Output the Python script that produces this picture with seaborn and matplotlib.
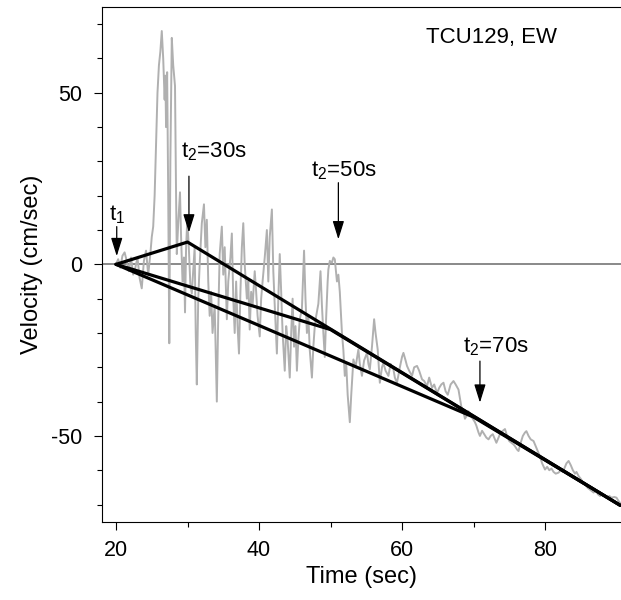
import pandas as pd
import matplotlib
matplotlib.use('Agg')
import matplotlib.pyplot as plt
from matplotlib.ticker import MultipleLocator
import seaborn as sns

sns.set_style('ticks')
plt.rcParams['font.family'] = ['Liberation Sans', 'DejaVu Sans']
plt.rcParams['mathtext.fontset'] = 'custom'
plt.rcParams['mathtext.rm'] = 'Liberation Sans'
plt.rcParams['mathtext.it'] = 'Liberation Sans:italic'
plt.rcParams['axes.unicode_minus'] = False
plt.rcParams['text.color'] = 'black'
plt.rcParams['axes.labelcolor'] = 'black'
plt.rcParams['xtick.color'] = 'black'
plt.rcParams['ytick.color'] = 'black'

#Velocity record TCU129 EW
time_s = [20.0, 20.3, 20.6, 20.9, 21.2, 21.5, 21.8, 22.1, 22.4, 22.7, 23.0, 23.3, 23.6, 23.9,
          24.2, 24.5, 24.8, 25.0, 25.2, 25.4, 25.6, 25.8, 26.0, 26.2, 26.4, 26.6, 26.8, 26.9,
          27.0, 27.15, 27.3, 27.45, 27.6, 27.8, 28.0, 28.25, 28.4, 28.5, 28.7, 28.95, 29.1,
          29.3, 29.5, 29.65, 29.8, 29.97, 30.2, 30.4, 30.6, 30.8, 31.0, 31.15, 31.3, 31.5,
          31.7, 32.0, 32.3, 32.5, 32.7, 32.9, 33.1, 33.3, 33.5, 33.8, 34.1, 34.3, 34.5, 34.8,
          35.0, 35.2, 35.5, 35.7, 36.0, 36.2, 36.4, 36.6, 36.8, 37.0, 37.2, 37.4, 37.6, 37.8,
          38.0, 38.3, 38.5, 38.7, 38.9, 39.1, 39.4, 39.6, 39.8, 40.1, 40.3, 40.5, 40.8, 41.1,
          41.3, 41.5, 41.8, 42.0, 42.2, 42.5, 42.7, 42.9, 43.1, 43.3, 43.6, 43.8, 44.0, 44.3,
          44.5, 44.7, 44.9, 45.1, 45.3, 45.5, 45.7, 46.0, 46.3, 46.5, 46.7, 46.9, 47.1, 47.4,
          47.6, 47.8, 48.0, 48.3, 48.6, 48.8, 49.0, 49.2, 49.4, 49.6, 49.7, 49.9, 50.2, 50.4,
          50.6, 50.9, 51.1, 51.3, 51.6, 51.8, 52.0, 52.2, 52.4, 52.7, 52.9, 53.2, 53.5, 53.9,
          54.1, 54.4, 54.7, 55.1, 55.3, 55.5, 55.8, 56.1, 56.3, 56.6, 56.9, 57.2, 57.4, 57.7,
          58.1, 58.4, 58.8, 59.0, 59.3, 59.7, 60.0, 60.2, 60.5, 60.7, 61.0, 61.4, 61.7, 62.1,
          62.4, 62.8, 63.1, 63.5, 63.8, 64.2, 64.5, 64.9, 65.2, 65.5, 65.8, 66.1, 66.4, 66.8,
          67.2, 67.5, 67.9, 68.1, 68.3, 68.6, 68.8, 69.0, 69.3, 69.6, 69.9, 70.2, 70.4, 70.7,
          70.9, 71.2, 71.5, 71.8, 72.1, 72.4, 72.7, 73.0, 73.2, 73.5, 73.8, 74.1, 74.4, 74.7,
          75.0, 75.3, 75.6, 75.8, 76.1, 76.3, 76.6, 76.9, 77.2, 77.4, 77.7, 78.0, 78.4, 78.7,
          79.0, 79.3, 79.6, 80.0, 80.3, 80.6, 80.9, 81.2, 81.5, 81.9, 82.2, 82.5, 82.8, 83.0,
          83.3, 83.6, 83.9, 84.2, 84.4, 84.7, 85.0, 85.3, 85.6, 85.9, 86.2, 86.5, 86.8, 87.1,
          87.4, 87.7, 88.1, 88.4, 88.7, 89.0, 89.3, 89.7, 90.0, 90.3, 90.5]
velocity = [0, 1.5, -1, 2.5, 3.5, 1, -2, 2, -3, -1, 2, -4, -7, 1,
            4, -3, 3, 8, 11, 20, 35, 50, 58, 62, 68, 60, 48, 55,
            40, 56, 20, -23, 30, 66, 58, 52, 20, 3, 12, 21, 8,
            -5, 2, -14, 5, 13, 4, -6, -8.5, -2, 5, -20, -35, -10,
            0, 12, 17.5, 5, 13, -5, -15, -8, -20, -12, -40, -15, 3, 11,
            -3, 5, -16, -5, 2, 9, -10, -20, -5, -18, -26, -8, 5, 12,
            0, -10, -5, -19, -8, -12, -2, -8, -15, -21, -10, -5, 2, 10,
            -5, 8, 16, -2, -12, -26, -10, 3, -8, -20, -31, -18, -22, -33,
            -20, -10, -24, -18, -31, -22, -16, -13, 4, -10, -20, -15, -25, -33,
            -24, -18, -15, -11.5, -2, -12, -20, -27, -15, -5, -1.5, 1, 0.5, 2,
            1.5, -5, -3, -8, -20, -25, -32.5, -29, -38, -46, -38, -27.7, -30, -24.8,
            -29, -32.5, -28, -25.8, -29, -30.6, -24, -16, -20, -24.8, -34.5, -30, -28.7, -31,
            -32.5, -29, -30.6, -33, -34.5, -30, -27, -25.8, -28, -29.6, -31, -32.5, -30, -29.6,
            -31, -33.5, -34, -35.5, -33, -36, -35, -37.5, -36, -35, -34.5, -37, -38, -35,
            -34, -35, -36.5, -39, -41.5, -43, -45, -44.3, -42.8, -44, -45, -46, -47, -49,
            -50, -48.5, -49.5, -50.5, -51, -50, -49.5, -51, -52, -50.5, -49, -48.5, -48, -50,
            -51.5, -52, -52.5, -53, -54, -54.4, -52, -50, -49, -48.6, -50, -51, -51.5, -53,
            -54.5, -56, -58, -59.8, -59, -60, -59.5, -60.5, -61, -60.7, -60, -60.5, -59, -58,
            -57.3, -58.5, -60, -61, -60.5, -61.7, -62.5, -63.5, -64, -65, -65.5, -66, -66.5, -66,
            -67, -67.5, -67, -67.5, -68, -67.5, -68, -67.8, -68, -69, -69.5]

#Baseline correction: t1 fixed, three choices of t2, common end point
t1 = 20.0
t2_values = [30, 50, 70]
v_at_t2 = [6.5, -19.0, -44.5]
t_end = 90.5
v_end = -70.2

rows = []
for t2, v2 in zip(t2_values, v_at_t2):
    rows.append({'case': t2, 't': t1, 'v': 0.0})
    rows.append({'case': t2, 't': t2, 'v': v2})
    rows.append({'case': t2, 't': t_end, 'v': v_end})
baselines = pd.DataFrame(rows)

#Labels with arrows: (text, text x, text y, arrow x, arrow tail y, arrow tip y)
marker_text = [r't$_\mathrm{1}$', r't$_\mathrm{2}$=30s', r't$_\mathrm{2}$=50s', r't$_\mathrm{2}$=70s']
text_x = [19.05, 29.1, 47.3, 68.5]
text_y = [12.9, 31.1, 25.7, -25.7]
arrow_x = [20.1, 30.2, 51.1, 70.9]
arrow_tail = [11.0, 25.7, 23.8, -28.2]
arrow_tip = [2.4, 9.3, 7.3, -40.3]

fig = plt.figure(figsize=(6.21, 6.0), dpi=100)
ax = fig.add_axes([0.1638, 0.1305, 0.8362, 0.8578])

ax.axhline(0, color='#808080', lw=1.3, zorder=1)
sns.lineplot(x=time_s, y=velocity, color='#b0b0b0', lw=1.4, estimator=None, ax=ax, zorder=2)
sns.lineplot(data=baselines, x='t', y='v', units='case', estimator=None,
             color='black', lw=2.3, ax=ax, zorder=3)

for txt, tx, ty, ax_, a0, a1 in zip(marker_text, text_x, text_y, arrow_x, arrow_tail, arrow_tip):
    ax.text(tx, ty, txt, fontsize=16, ha='left', va='baseline', zorder=4)
    ax.annotate('', xy=(ax_, a1), xytext=(ax_, a0),
                arrowprops=dict(arrowstyle='-|>,head_length=0.8,head_width=0.25',
                                color='black', lw=0.9, mutation_scale=14,
                                shrinkA=0, shrinkB=0), zorder=4)

ax.text(63.3, 64.6, 'TCU129, EW', fontsize=16, ha='left', va='baseline')

ax.set_xlim(18.0, 90.63)
ax.set_ylim(-75, 75)
ax.set_xticks([20, 40, 60, 80])
ax.set_xticks([30, 50, 70], minor=True)
ax.set_yticks([-50, 0, 50])
ax.yaxis.set_minor_locator(MultipleLocator(10))
ax.tick_params(which='major', direction='out', length=6, width=0.8, labelsize=15.5, pad=7, color='black')
ax.tick_params(which='minor', direction='out', length=3.5, width=0.8, color='black')
ax.tick_params(axis='y', which='major', pad=8)

for side in ['left', 'bottom', 'top']:
    ax.spines[side].set_color('black')
    ax.spines[side].set_linewidth(0.8)
ax.spines['right'].set_visible(False)

ax.set_xlabel('Time (sec)', fontsize=17, labelpad=4)
ax.set_ylabel('Velocity (cm/sec)', fontsize=17, labelpad=6)

fig.savefig('out.png', dpi=100)
